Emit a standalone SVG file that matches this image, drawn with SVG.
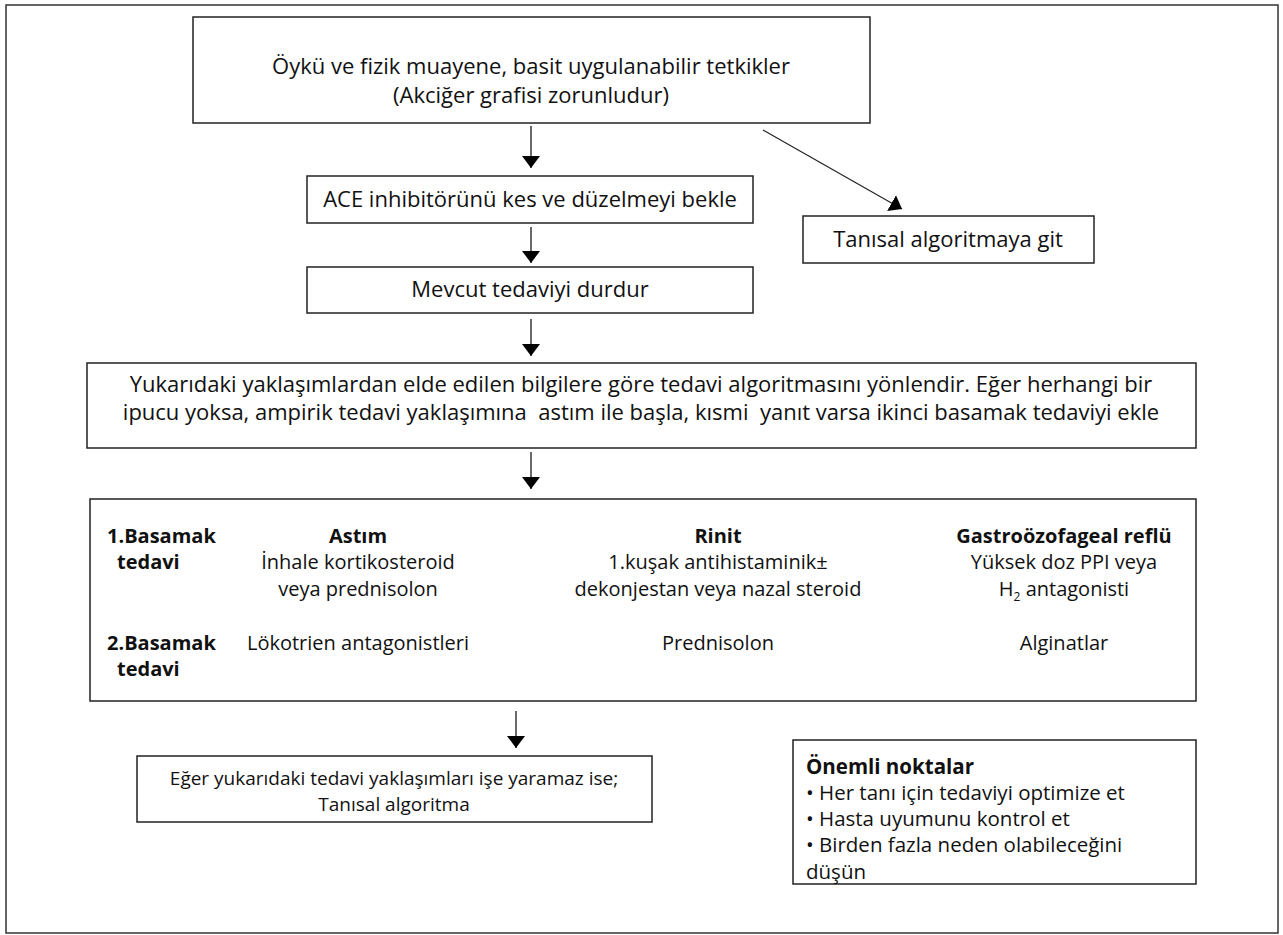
<svg xmlns="http://www.w3.org/2000/svg" width="1283" height="935" viewBox="0 0 1283 935">
<defs>
<marker id="ah2" markerUnits="userSpaceOnUse" viewBox="0 0 12 20" markerWidth="12" markerHeight="20" refX="12" refY="10" orient="auto">
<path d="M0,1 L12,10 L0,19 z" fill="#000"/>
</marker>
<style>
.box{fill:#fff;stroke:#222;stroke-width:1.5}
.t{font-family:"Open Sans",Lato,"Noto Sans",sans-serif;font-size:22px;fill:#111;text-anchor:middle;font-variant-ligatures:none}
.s{font-size:20px}
.m{font-size:19px}
.n{font-size:20.5px}
.l{text-anchor:start}
.b{font-weight:bold}
.c{stroke:#444;stroke-width:1.6;fill:none;marker-end:url(#ah2)}
.d{stroke:#222;stroke-width:1.2;fill:none;marker-end:url(#ah2)}
</style>
</defs>
<rect x="0" y="0" width="1283" height="935" fill="#fff"/>
<rect x="6" y="5" width="1272" height="928" fill="none" stroke="#333" stroke-width="1.5"/>

<g id="connectors">
<line class="c" x1="531" y1="126" x2="531" y2="168"/>
<line class="c" x1="531" y1="227" x2="531" y2="263"/>
<line class="c" x1="531" y1="319" x2="531" y2="356"/>
<line class="c" x1="531" y1="452" x2="531" y2="489"/>
<line class="c" x1="516" y1="711" x2="516" y2="748"/>
<line class="d" x1="763" y1="130" x2="902" y2="209"/>
</g>

<g id="n1">
<rect class="box" x="193" y="17" width="677" height="106"/>
<text class="t" x="531" y="74">Öykü ve fizik muayene, basit uygulanabilir tetkikler</text>
<text class="t" x="531" y="103">(Akciğer grafisi zorunludur)</text>
</g>

<g id="n2">
<rect class="box" x="307" y="176" width="446" height="47"/>
<text class="t" x="530" y="207">ACE inhibitörünü kes ve düzelmeyi bekle</text>
</g>

<g id="n3">
<rect class="box" x="307" y="267" width="446" height="46"/>
<text class="t" x="530" y="297">Mevcut tedaviyi durdur</text>
</g>

<g id="n4">
<rect class="box" x="803" y="216" width="291" height="47"/>
<text class="t" x="948" y="247">Tanısal algoritmaya git</text>
</g>

<g id="n5">
<rect class="box" x="87" y="363" width="1109" height="85"/>
<text class="t" x="641" y="392">Yukarıdaki yaklaşımlardan elde edilen bilgilere göre tedavi algoritmasını yönlendir. Eğer herhangi bir</text>
<text class="t" x="641" y="420" xml:space="preserve">ipucu yoksa, ampirik tedavi yaklaşımına  astım ile başla, kısmi  yanıt varsa ikinci basamak tedaviyi ekle</text>
</g>

<g id="n6">
<rect class="box" x="90" y="499" width="1106" height="202"/>
<text class="t s l b" x="107" y="543">1.Basamak</text>
<text class="t s l b" x="117" y="569">tedavi</text>
<text class="t s b" x="358" y="543">Astım</text>
<text class="t s" x="358" y="569">İnhale kortikosteroid</text>
<text class="t s" x="358" y="596">veya prednisolon</text>
<text class="t s b" x="718" y="543">Rinit</text>
<text class="t s" x="718" y="569">1.kuşak antihistaminik±</text>
<text class="t s" x="718" y="596">dekonjestan veya nazal steroid</text>
<text class="t s b" x="1064" y="543">Gastroözofageal reflü</text>
<text class="t s" x="1064" y="569">Yüksek doz PPI veya</text>
<text class="t s" x="1064" y="596">H<tspan font-size="12" dy="5">2</tspan><tspan dy="-5"> antagonisti</tspan></text>
<text class="t s l b" x="107" y="650">2.Basamak</text>
<text class="t s l b" x="117" y="676">tedavi</text>
<text class="t s" x="358" y="650">Lökotrien antagonistleri</text>
<text class="t s" x="718" y="650">Prednisolon</text>
<text class="t s" x="1064" y="650">Alginatlar</text>
</g>

<g id="n7">
<rect class="box" x="137" y="756" width="515" height="66"/>
<text class="t m" x="394" y="785">Eğer yukarıdaki tedavi yaklaşımları işe yaramaz ise;</text>
<text class="t m" x="394" y="811">Tanısal algoritma</text>
</g>

<g id="n8">
<rect class="box" x="793" y="740" width="403" height="144"/>
<text class="t n l b" x="806" y="774">Önemli noktalar</text>
<text class="t n l" x="806" y="800">• Her tanı için tedaviyi optimize et</text>
<text class="t n l" x="806" y="826">• Hasta uyumunu kontrol et</text>
<text class="t n l" x="806" y="852">• Birden fazla neden olabileceğini</text>
<text class="t n l" x="806" y="879">düşün</text>
</g>
</svg>
